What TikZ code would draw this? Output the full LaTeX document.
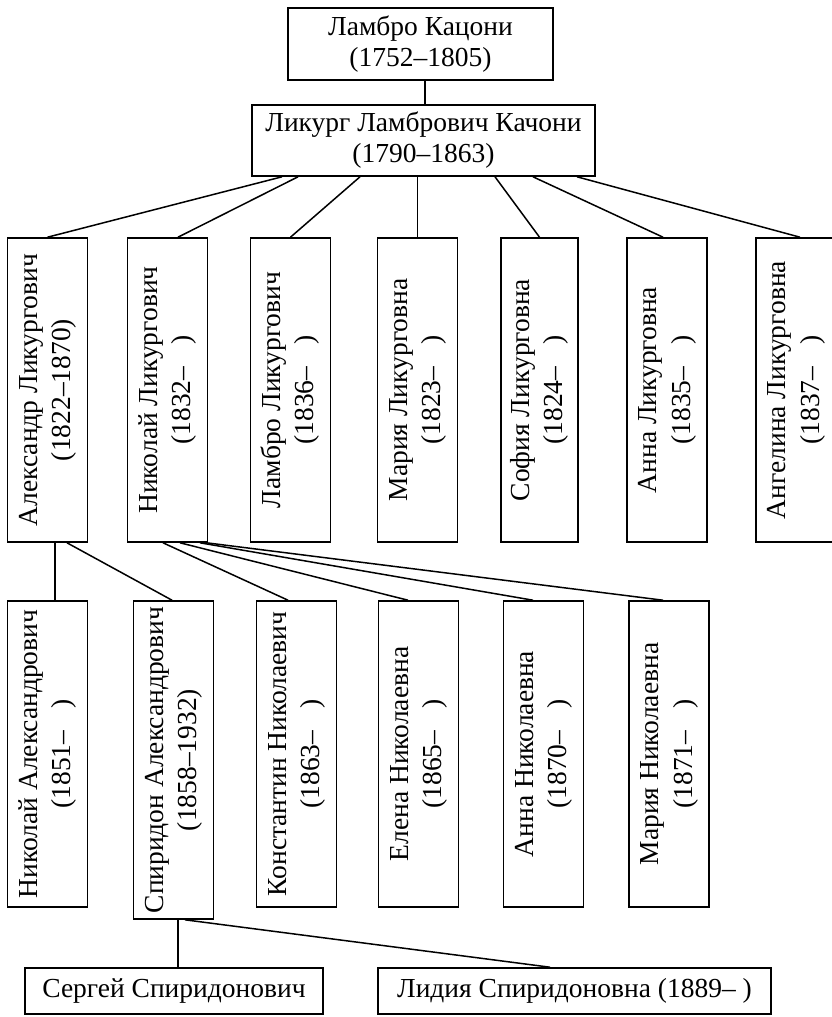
\documentclass[tikz,border=0pt]{standalone}
\usepackage{fontspec}
\usepackage{graphicx}
\setmainfont{Liberation Serif}
\newcommand{\rotlabel}[2]{\rotatebox{90}{\begin{tabular}{@{}c@{}}#1\\#2\end{tabular}}}
\tikzset{
  hbox/.style={draw, line width=1.6pt, inner sep=0pt, align=center,
    font=\fontsize{27.5}{31}\selectfont},
  vbox/.style={draw, line width=1.6pt, inner sep=0pt, minimum width=80pt,
    font=\fontsize{27.5}{33.5}\selectfont},
  conn/.style={line width=1.5pt}
}
\begin{document}
\begin{tikzpicture}[x=1pt,y=-1pt]
\useasboundingbox (0,0) rectangle (832,1017);
% generations 1 and 2
\node[hbox, minimum width=265pt, minimum height=72pt] (top) at (420.5,44) {Ламбро Кацони\\(1752–1805)};
\node[hbox, minimum width=343pt, minimum height=71pt] (sec) at (423.5,140.5) {Ликург Ламбрович Качони\\(1790–1863)};
% generation 3
\node[vbox, minimum height=304pt] (a1) at (47.5,390) {\rotlabel{Александр Ликургович}{(1822–1870)}};
\node[vbox, minimum height=304pt] (a2) at (167.5,390) {\rotlabel{Николай Ликургович}{(1832–\hspace{0.8em})}};
\node[vbox, minimum height=304pt] (a3) at (290.5,390) {\rotlabel{Ламбро Ликургович}{(1836–\hspace{0.8em})}};
\node[vbox, minimum height=304pt] (a4) at (417.5,390) {\rotlabel{Мария Ликурговна}{(1823–\hspace{0.8em})}};
\node[vbox, minimum height=304pt, minimum width=77pt] (a5) at (539.5,390) {\rotlabel{София Ликурговна}{(1824–\hspace{0.8em})}};
\node[vbox, minimum height=304pt] (a6) at (667,390) {\rotlabel{Анна Ликурговна}{(1835–\hspace{0.8em})}};
\node[vbox, minimum height=304pt] (a7) at (796,390) {\rotlabel{Ангелина Ликурговна}{(1837–\hspace{0.8em})}};
% generation 4
\node[vbox, minimum height=306pt] (b1) at (47.5,754) {\rotlabel{Николай Александрович}{(1851–\hspace{0.8em})}};
\node[vbox, minimum height=318pt] (b2) at (173.5,760) {\rotlabel{Спиридон Александрович}{(1858–1932)}};
\node[vbox, minimum height=306pt] (b3) at (296.5,754) {\rotlabel{Константин Николаевич}{(1863–\hspace{0.8em})}};
\node[vbox, minimum height=306pt] (b4) at (418.5,754) {\rotlabel{Елена Николаевна}{(1865–\hspace{0.8em})}};
\node[vbox, minimum height=306pt] (b5) at (543.5,754) {\rotlabel{Анна Николаевна}{(1870–\hspace{0.8em})}};
\node[vbox, minimum height=306pt] (b6) at (669,754) {\rotlabel{Мария Николаевна}{(1871–\hspace{0.8em})}};
% generation 5
\node[hbox, minimum width=298pt, minimum height=46pt] (c1) at (174,991) {Сергей Спиридонович};
\node[hbox, minimum width=393pt, minimum height=46pt] (c2) at (574.5,991) {Лидия Спиридоновна (1889– )};
% connectors
\draw[conn] ([xshift=4.5pt]top.south) -- ([xshift=1.5pt]sec.north);
\draw[conn] ([xshift=-141.5pt]sec.south) -- (a1.north);
\draw[conn] ([xshift=-125.5pt]sec.south) -- ([xshift=10.5pt]a2.north);
\draw[conn] ([xshift=-63.5pt]sec.south) -- (a3.north);
\draw[conn] (a4.north |- sec.south) -- (a4.north);
\draw[conn] ([xshift=71.5pt]sec.south) -- (a5.north);
\draw[conn] ([xshift=109.5pt]sec.south) -- ([xshift=-4pt]a6.north);
\draw[conn] ([xshift=153.5pt]sec.south) -- ([xshift=4pt]a7.north);
\draw[conn] ([xshift=7.5pt]a1.south) -- ([xshift=7.5pt]b1.north);
\draw[conn] ([xshift=19.5pt]a1.south) -- ([xshift=-1.5pt]b2.north);
\draw[conn] ([xshift=-4.5pt]a2.south) -- ([xshift=-8.5pt]b3.north);
\draw[conn] ([xshift=12.5pt]a2.south) -- ([xshift=-10.5pt]b4.north);
\draw[conn] ([xshift=32.5pt]a2.south) -- ([xshift=-10.5pt]b5.north);
\draw[conn] ([xshift=39pt]a2.south) -- ([xshift=-6pt]b6.north);
\draw[conn] ([xshift=4.5pt]b2.south) -- ([xshift=4pt]c1.north);
\draw[conn] ([xshift=11.5pt]b2.south) -- ([xshift=-24.5pt]c2.north);
\end{tikzpicture}
\end{document}
